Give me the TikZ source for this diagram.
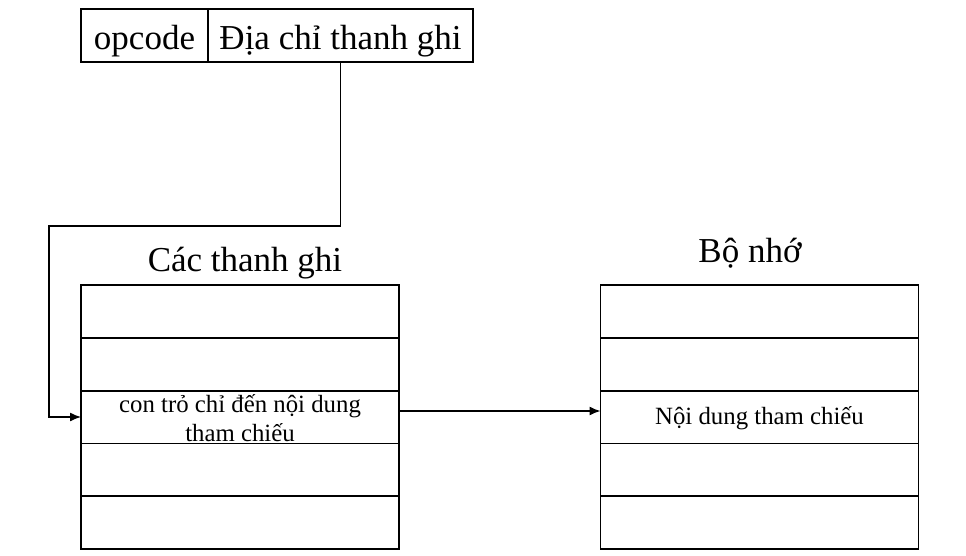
\documentclass[tikz,border=0pt]{standalone}
\usepackage{fontspec}
\setmainfont{Liberation Serif}
\usetikzlibrary{positioning,arrows.meta}
\tikzset{
  cell/.style={draw, line width=1.8pt, minimum width=318pt, minimum height=52.8pt, inner sep=0pt, outer sep=0pt},
  field/.style={draw, line width=1.8pt, minimum height=53pt, inner sep=0pt, outer sep=0pt,
    text height=35pt, text depth=6pt, font=\fontsize{35}{42}\selectfont},
  title/.style={anchor=base, inner sep=0pt, font=\fontsize{35}{42}\selectfont},
  smalltxt/.style={inner sep=0pt, font=\fontsize{24.8}{28.5}\selectfont},
  link/.style={line width=1.3pt, -{Latex[length=11pt,width=9pt]}}
}
\begin{document}
\begin{tikzpicture}[x=1pt,y=-1pt]
		\useasboundingbox (0,0) rectangle (966,556);
		% instruction
		\node[field, minimum width=127pt] (opcode) at (144.5,35.5) {opcode};
		\node[field, minimum width=265pt, right=0pt of opcode] (addr) {Địa chỉ thanh ghi};
		% registers and memory
		\foreach \i in {1,...,5} {
			\node[cell] (reg\i) at (240,{285+52.8*(\i-0.5)}) {};
			\node[cell] (mem\i) at (759.5,{285+52.8*(\i-0.5)}) {};
		}
		\node[title] (regtitle) at (245,271) {Các thanh ghi};
		\node[title] (memtitle) at (750,262) {Bộ nhớ};
		\node[smalltxt, align=center] (ptr) at ([yshift=-1pt]reg3) {con trỏ chỉ đến nội dung\\tham chiếu};
		\node[smalltxt] (ref) at ([yshift=-1pt]mem3) {Nội dung tham chiếu};
		\coordinate (bend) at (49,226);
		\draw[link] (addr.south) |- (bend) |- (reg3.west);
		\draw[link] ([yshift=6pt]reg3.east) -- ([yshift=6pt]mem3.west);
\end{tikzpicture}
\end{document}
